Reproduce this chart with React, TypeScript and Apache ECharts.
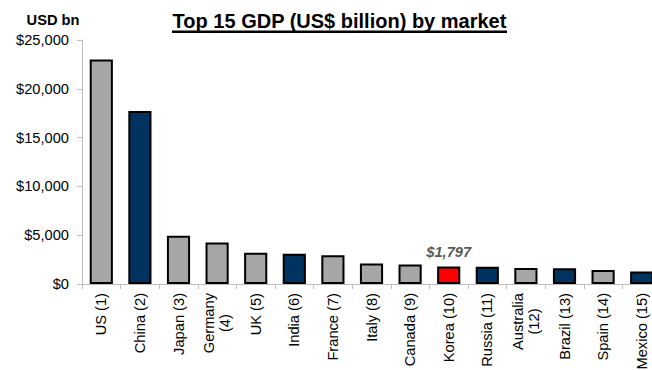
import React, { useEffect, useRef } from "react";
import * as echarts from "echarts";

const categories = [
  "US (1)", "China (2)", "Japan (3)", "Germany\n(4)", "UK (5)", "India (6)",
  "France (7)", "Italy (8)", "Canada (9)", "Korea (10)", "Russia (11)",
  "Australia\n(12)", "Brazil (13)", "Spain (14)", "Mexico (15)",
];
const gdpValues = [23000, 17730, 4940, 4260, 3190, 3100, 2940, 2110, 2000, 1797, 1780, 1650, 1620, 1430, 1290];
const barColorKeys = ["g", "n", "g", "g", "g", "n", "g", "g", "g", "r", "n", "g", "n", "g", "n"];
const yTicks = [0, 5000, 10000, 15000, 20000, 25000];
const highlightLabel = "$1,797";

const COLORS: Record<string, string> = { g: "#A6A6A6", n: "#00335F", r: "#FF0000" };
const FONT = "'Liberation Sans', Arial, sans-serif";
const FS = 14.67;

export default function App() {
  const ref = useRef<HTMLDivElement>(null);
  useEffect(() => {
    if (!ref.current) return;
    const chart = echarts.init(ref.current, null, { renderer: "svg" });
    const data = gdpValues.map((v, i) => {
      const item: any = {
        value: v,
        itemStyle: { color: COLORS[barColorKeys[i]], borderColor: "#000", borderWidth: 2 },
      };
      if (barColorKeys[i] === "r") {
        item.label = {
          show: true,
          position: "top",
          distance: 7,
          formatter: highlightLabel,
          fontFamily: FONT,
          fontSize: FS,
          fontWeight: "bold",
          fontStyle: "italic",
          color: "#595959",
        };
      }
      return item;
    });
    chart.setOption({
      animation: false,
      textStyle: { fontFamily: FONT },
      grid: { left: 82, right: -9, top: 40, bottom: 86, containLabel: false, outerBoundsMode: "none" },
      xAxis: {
        type: "category",
        data: categories,
        boundaryGap: true,
        axisLine: { show: true, lineStyle: { color: "#BFBFBF", width: 1 } },
        axisTick: { show: true, alignWithLabel: false, length: 5, lineStyle: { color: "#BFBFBF" } },
        axisLabel: {
          interval: 0,
          rotate: 90,
          margin: 9,
          fontSize: FS,
          color: "#000",
          fontFamily: FONT,
          hideOverlap: false,
          formatter: (v: string) => v.split("\n").map((s) => "{c|" + s + "}").join("\n"),
          rich: { c: { align: "center", fontSize: FS, fontFamily: FONT, color: "#000", lineHeight: 16 } },
        },
      },
      yAxis: {
        type: "value",
        min: yTicks[0],
        max: yTicks[yTicks.length - 1],
        interval: 5000,
        splitLine: { show: false },
        axisLine: { show: true, lineStyle: { color: "#BFBFBF", width: 1 } },
        axisTick: { show: true, length: 5, lineStyle: { color: "#BFBFBF" } },
        axisLabel: {
          margin: 13,
          fontSize: FS,
          color: "#000",
          fontFamily: FONT,
          formatter: (v: number) => "$" + v.toLocaleString("en-US"),
        },
      },
      series: [
        {
          type: "bar",
          data,
          barCategoryGap: "40%",
        },
      ],
      graphic: [
        {
          type: "text",
          x: 53,
          y: 20,
          style: {
            text: "USD bn",
            font: "bold " + FS + "px " + FONT,
            fill: "#000",
            align: "center",
            verticalAlign: "middle",
          },
        },
        {
          type: "text",
          x: 339.5,
          y: 21,
          style: {
            text: "Top 15 GDP (US$ billion) by market",
            font: "bold 20px " + FONT,
            fill: "#000",
            align: "center",
            verticalAlign: "middle",
          },
        },
        {
          type: "rect",
          shape: { x: 172, y: 30.5, width: 335, height: 2.5 },
          style: { fill: "#000" },
        },
      ],
    });
    return () => chart.dispose();
  }, []);
  return (
    <div
      ref={ref}
      style={{ position: "absolute", left: 0, top: 0, width: 652, height: 370, background: "#fff" }}
    />
  );
}
